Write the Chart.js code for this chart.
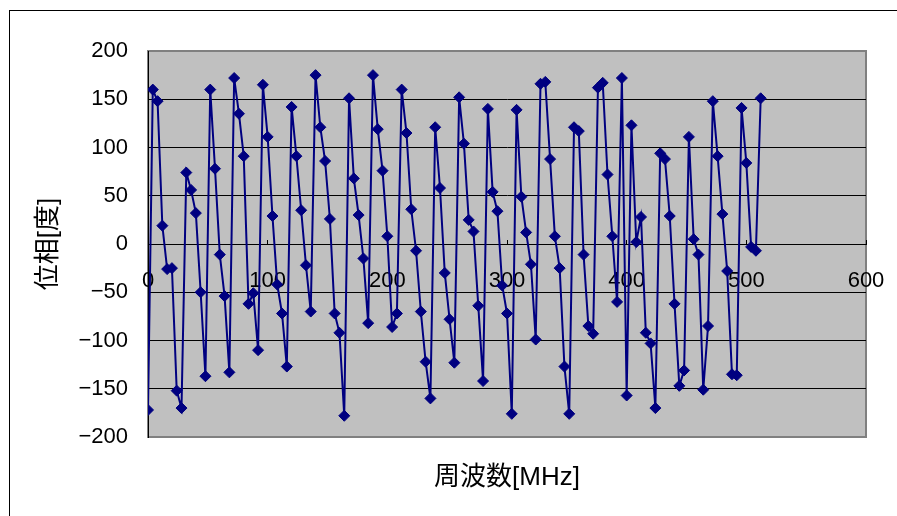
<!DOCTYPE html>
<html lang="ja">
<head>
  <meta charset="UTF-8" />
  <title>位相 - 周波数</title>
  <script src="https://cdn.jsdelivr.net/npm/chart.js"></script>
  <style>
    html, body { margin: 0; padding: 0; background: #fff; overflow: hidden; }
    #wrap { position: relative; width: 897px; height: 516px; }
    #frame {
      position: absolute; left: 9px; top: 10px;
      width: 920px; height: 540px;
      border: 1px solid #000;
    }
    #chart { position: absolute; left: 0; top: 0; }
  </style>
</head>
<body>
<div id="wrap">
  <div id="frame"></div>
  <canvas id="chart" width="897" height="516"></canvas>
</div>

<script>
  // frequency [MHz]
  const freqMHz = [
      0,   4,   8,  12,  16,  20,  24,  28,  32,  36,  40,  44,  48,  52,  56,  60,
     64,  68,  72,  76,  80,  84,  88,  92,  96, 100, 104, 108, 112, 116, 120, 124,
    128, 132, 136, 140, 144, 148, 152, 156, 160, 164, 168, 172, 176, 180, 184, 188,
    192, 196, 200, 204, 208, 212, 216, 220, 224, 228, 232, 236, 240, 244, 248, 252,
    256, 260, 264, 268, 272, 276, 280, 284, 288, 292, 296, 300, 304, 308, 312, 316,
    320, 324, 328, 332, 336, 340, 344, 348, 352, 356, 360, 364, 368, 372, 376, 380,
    384, 388, 392, 396, 400, 404, 408, 412, 416, 420, 424, 428, 432, 436, 440, 444,
    448, 452, 456, 460, 464, 468, 472, 476, 480, 484, 488, 492, 496, 500, 504, 508,
    512
  ];

  // phase [deg]
  const phaseDeg = [
    -172,  160,  148,   19,  -26,  -25, -152, -170,   74,   56,   32,  -50, -137,  160,   78,  -11,
     -54, -133,  172,  135,   91,  -62,  -51, -110,  165,  111,   29,  -42,  -72, -127,  142,   91,
      35,  -22,  -70,  175,  121,   86,   26,  -72,  -92, -178,  151,   68,   30,  -15,  -82,  175,
     119,   76,    8,  -86,  -72,  160,  115,   36,   -7,  -70, -122, -160,  121,   58,  -30,  -78,
    -123,  152,  104,   25,   13,  -64, -142,  140,   54,   34,  -43,  -72, -176,  139,   49,   12,
     -21,  -99,  166,  168,   88,    8,  -25, -127, -176,  121,  117,  -11,  -85,  -93,  162,  167,
      72,    8,  -60,  172, -157,  123,    2,   28,  -92, -103, -170,   94,   88,   29,  -62, -147,
    -131,  111,    5,  -11, -151,  -85,  148,   91,   31,  -28, -135, -136,  141,   84,   -3,   -7,
     151
  ];

  // axis ranges
  const xTicks = [0, 100, 200, 300, 400, 500, 600];
  const yTicks = [-200, -150, -100, -50, 0, 50, 100, 150, 200];

  const FONT = "'Liberation Sans', 'Noto Sans CJK JP', sans-serif";
  Chart.defaults.font.family = FONT;
  Chart.defaults.color = '#000';

  const points = freqMHz.map((f, i) => ({ x: f, y: phaseDeg[i] }));

  // grey plot area with a grey frame
  const plotArea = {
    id: 'plotArea',
    beforeDraw(chart) {
      const { ctx, chartArea: a } = chart;
      ctx.save();
      ctx.fillStyle = '#c0c0c0';
      ctx.fillRect(a.left, a.top, a.right - a.left, a.bottom - a.top);
      ctx.strokeStyle = '#808080';
      ctx.lineWidth = 2;
      ctx.strokeRect(a.left, a.top, a.right - a.left, a.bottom - a.top);
      ctx.restore();
    }
  };

  const minus = v => (v < 0 ? '\u2212' + Math.abs(v) : String(v));

  new Chart(document.getElementById('chart'), {
    type: 'scatter',
    data: {
      datasets: [{
        data: points,
        showLine: true,
        borderColor: '#000080',
        borderWidth: 2,
        pointStyle: 'rectRot',
        pointRadius: 5.5,
        pointBorderWidth: 1,
        pointBackgroundColor: '#000080',
        pointBorderColor: '#000080',
        tension: 0
      }]
    },
    options: {
      responsive: false,
      animation: false,
      layout: { padding: { left: 0, top: 51, right: 31, bottom: 22.3 } },
      plugins: {
        legend: { display: false },
        tooltip: { enabled: false },
        title: {
          display: true,
          text: '周波数[MHz]',
          position: 'bottom',
          fullSize: false,
          color: '#000',
          font: { size: 26, weight: 'normal', family: FONT },
          padding: { top: 25.5, bottom: 0 }
        }
      },
      scales: {
        x: {
          type: 'linear',
          position: { y: 0 },
          min: xTicks[0],
          max: xTicks[xTicks.length - 1],
          afterBuildTicks: s => { s.ticks = xTicks.map(v => ({ value: v })); },
          // label overhang is already covered by the layout padding
          afterFit: s => { s.paddingLeft = 0; s.paddingRight = 0; },
          ticks: { font: { size: 22 }, padding: 29, maxRotation: 0 },
          grid: { drawOnChartArea: false, drawTicks: true, tickLength: -5, color: '#000' },
          border: { display: true, color: '#000', width: 1 }
        },
        y: {
          type: 'linear',
          position: 'left',
          min: yTicks[0],
          max: yTicks[yTicks.length - 1],
          afterBuildTicks: s => { s.ticks = yTicks.map(v => ({ value: v })); },
          afterFit: s => { s.width = 148; },
          ticks: { font: { size: 22 }, padding: 25, callback: v => minus(v) },
          grid: {
            color: c => (c.tick && Math.abs(c.tick.value) === 200 ? '#808080' : '#000'),
            lineWidth: 1,
            drawTicks: true,
            tickLength: -5
          },
          border: { display: true, color: '#000', width: 1 },
          title: {
            display: true,
            text: '位相[度]',
            font: { size: 26, family: FONT },
            padding: { top: 33, bottom: 0 }
          }
        }
      }
    },
    plugins: [plotArea]
  });
</script>
</body>
</html>
